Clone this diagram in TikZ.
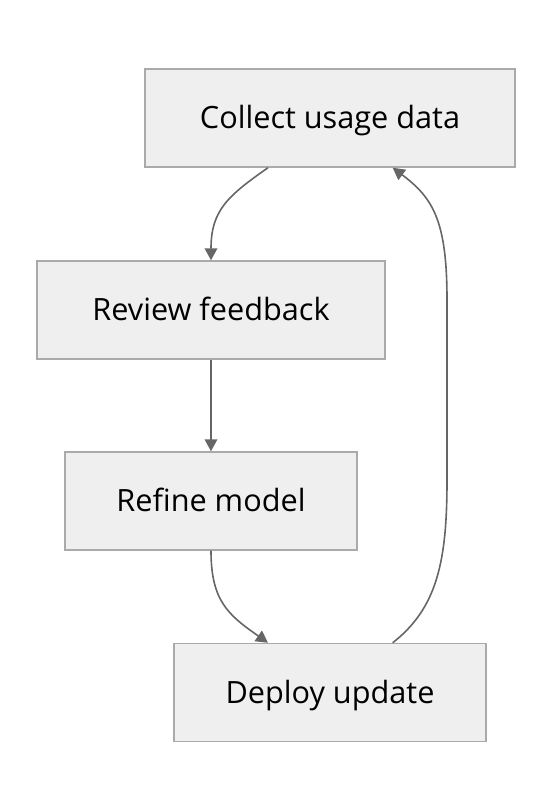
\documentclass[tikz,border=0pt]{standalone}
\usepackage{fontspec}
\setmainfont{Open Sans}
\usetikzlibrary{arrows.meta,calc}
\definecolor{boxfill}{HTML}{EFEFEF}
\definecolor{boxline}{HTML}{AAAAAA}
\definecolor{edgecol}{HTML}{666666}
\begin{document}
\begin{tikzpicture}[x=0.75pt,y=-0.75pt,
  stepbox/.style={draw=boxline,fill=boxfill,line width=1.1pt,minimum height=73.5pt,inner sep=0pt,text height=16.4pt,text depth=0pt,font=\fontsize{23}{27}\selectfont,text=black},
  flow/.style={draw=edgecol,line width=1.2pt,-{Triangle[length=9pt,width=9.5pt]}}]
\useasboundingbox (0,0) rectangle (552,812);
\node[stepbox,minimum width=277.5pt] (a) at (330,118) {Collect usage data};
\node[stepbox,minimum width=261pt] (b) at (211,310) {Review feedback};
\node[stepbox,minimum width=219pt] (c) at (211,501) {Refine model};
\node[stepbox,minimum width=234pt] (d) at (330,692.5) {Deploy update};
\draw[flow] ([xshift=-46.5pt]a.south) .. controls +(-40,28) and +(0,-50) .. (b.north);
\draw[flow] (b.south) -- (c.north);
\draw[flow] (c.south) .. controls +(0,50) and +(-40,-28) .. ([xshift=-46.5pt]d.north);
\draw[flow] ([xshift=47pt]d.north) .. controls +(45,-35) and +(0,80) .. (447,480) -- (447,300) .. controls +(0,-80) and +(40,30) .. ([xshift=47pt]a.south);
\end{tikzpicture}
\end{document}
